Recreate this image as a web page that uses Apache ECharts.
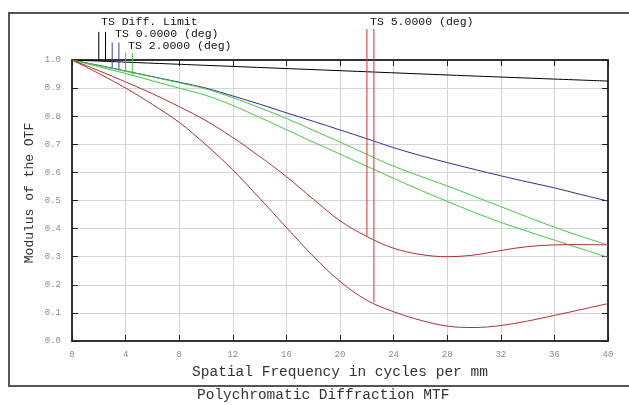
<!DOCTYPE html>
<html>
<head>
<meta charset="utf-8">
<script src="https://cdn.jsdelivr.net/npm/echarts@6/dist/echarts.min.js"></script>
<style>
html,body{margin:0;padding:0;background:#fff;}
#c{width:629px;height:405px;}
</style>
</head>
<body>
<div id="c"></div>
<script>
// Spatial frequency samples (cycles/mm)
const freq = [0,2,4,6,8,10,12,14,16,18,20,22,24,26,28,30,32,34,36,38,40];
// Diffraction limit (T and S coincide)
const diffFreq = [0,10,20,30,40];
const diffLimit = [1.0,0.981,0.962,0.943,0.925];
// 0.0000 deg (T and S coincide)
const field0 = [1.0,0.981,0.961,0.941,0.921,0.9,0.872,0.843,0.812,0.782,0.751,0.72,0.688,0.66,0.635,0.611,0.588,0.566,0.545,0.521,0.498];
// 2.0000 deg
const field2T = [1.0,0.98,0.96,0.94,0.919,0.897,0.866,0.83,0.792,0.75,0.708,0.664,0.622,0.586,0.552,0.515,0.478,0.441,0.405,0.372,0.342];
const field2S = [1.0,0.976,0.952,0.926,0.9,0.874,0.838,0.796,0.752,0.708,0.665,0.622,0.579,0.537,0.497,0.458,0.422,0.39,0.359,0.328,0.298];
// 5.0000 deg
const field5T = [1.0,0.962,0.922,0.88,0.834,0.784,0.724,0.657,0.585,0.505,0.428,0.372,0.33,0.308,0.3,0.306,0.322,0.336,0.342,0.343,0.342];
const field5S = [1.0,0.952,0.9,0.842,0.778,0.698,0.609,0.508,0.404,0.302,0.212,0.145,0.104,0.074,0.053,0.048,0.055,0.071,0.091,0.112,0.133];
// Leader lines: x position, top value, bottom value
const leaderX      = [2.0, 2.5, 3.0, 3.5, 4.0, 4.5, 22.01, 22.53];
const leaderTop    = [1.1, 1.1, 1.062, 1.062, 1.026, 1.026, 1.11, 1.11];
const leaderBottom = [0.996, 0.995, 0.971, 0.966, 0.96, 0.946, 0.372, 0.137];
const leaderColor  = ['#000000','#000000','#3a3aa8','#3a3aa8','#3cc83c','#3cc83c','#d83030','#d83030'];
const legendTexts = ['TS Diff. Limit','TS 0.0000 (deg)','TS 2.0000 (deg)','TS 5.0000 (deg)'];

const mono = '"Liberation Mono", "DejaVu Sans Mono", monospace';
function pairs(xs, ys){ return xs.map((x,i)=>[x, ys[i]]); }
function curve(name, xs, ys, color){
  return {name, type:'line', data:pairs(xs,ys), showSymbol:false, smooth:0.35,
    lineStyle:{color, width:1}, itemStyle:{color}, silent:true, z:3};
}
const series = [
  curve('Diff', diffFreq, diffLimit, '#000000'),
  curve('0T', freq, field0, '#2e2e96'),
  curve('2T', freq, field2T, '#44c844'),
  curve('2S', freq, field2S, '#44c844'),
  curve('5T', freq, field5T, '#b03030'),
  curve('5S', freq, field5S, '#b03030')
];
leaderX.forEach((x,i)=>{
  series.push({type:'line', data:[[x,leaderTop[i]],[x,leaderBottom[i]]], showSymbol:false, clip:false,
    lineStyle:{color:leaderColor[i], width:1}, itemStyle:{color:leaderColor[i]}, silent:true, z:4});
});

const chart = echarts.init(document.getElementById('c'), null, {renderer:'canvas'});
function axisCommon(){
  return {
    axisLine:{show:true, onZero:false, lineStyle:{color:'#333', width:2}},
    axisTick:{show:true, inside:true, length:6, lineStyle:{color:'#222', width:1}}
  };
}
chart.setOption({
  animation:false,
  backgroundColor:'#ffffff',
  grid:{left:72, right:21, top:60, bottom:64, containLabel:false},
  xAxis:[{
    type:'value', min:0, max:40, interval:4, position:'bottom',
    ...axisCommon(),
    axisLabel:{color:'#8a8a8a', fontSize:9, fontFamily:mono, margin:9},
    splitLine:{show:true, lineStyle:{color:'#d4d4d4', width:1}},
    name:'Spatial Frequency in cycles per mm', nameLocation:'middle', nameGap:24,
    nameTextStyle:{color:'#333', fontSize:14.5, fontFamily:mono}
  },{
    type:'value', min:0, max:40, interval:4, position:'top',
    ...axisCommon(), axisLabel:{show:false}, splitLine:{show:false}
  }],
  yAxis:[{
    type:'value', min:0, max:1, interval:0.1, position:'left',
    ...axisCommon(),
    axisLabel:{color:'#8a8a8a', fontSize:9, fontFamily:mono, margin:11,
      formatter:v=>v.toFixed(1)},
    splitLine:{show:true, lineStyle:{color:'#d4d4d4', width:1}}
  },{
    type:'value', min:0, max:1, interval:0.1, position:'right',
    ...axisCommon(), axisLabel:{show:false}, splitLine:{show:false}
  }],
  title:{text:'Polychromatic Diffraction MTF', left:197, top:388, padding:0,
    textStyle:{color:'#333', fontSize:14.5, fontWeight:'normal', fontFamily:mono}},
  graphic:[
    {type:'rect', shape:{x:9, y:13, width:640, height:373}, style:{fill:null, stroke:'#555', lineWidth:2}, z:-1, silent:true},
    {type:'text', x:30, y:193, rotation:Math.PI/2,
      style:{text:'Modulus of the OTF', fill:'#333', font:'13px '+mono, textAlign:'center', textVerticalAlign:'middle'}, z:10},
    {type:'text', left:101, top:16, style:{text:legendTexts[0], fill:'#111', font:'11.5px '+mono}, z:10},
    {type:'text', left:115, top:28, style:{text:legendTexts[1], fill:'#111', font:'11.5px '+mono}, z:10},
    {type:'text', left:128, top:40, style:{text:legendTexts[2], fill:'#111', font:'11.5px '+mono}, z:10},
    {type:'text', left:370, top:16, style:{text:legendTexts[3], fill:'#111', font:'11.5px '+mono}, z:10}
  ],
  series
});
</script>
</body>
</html>
